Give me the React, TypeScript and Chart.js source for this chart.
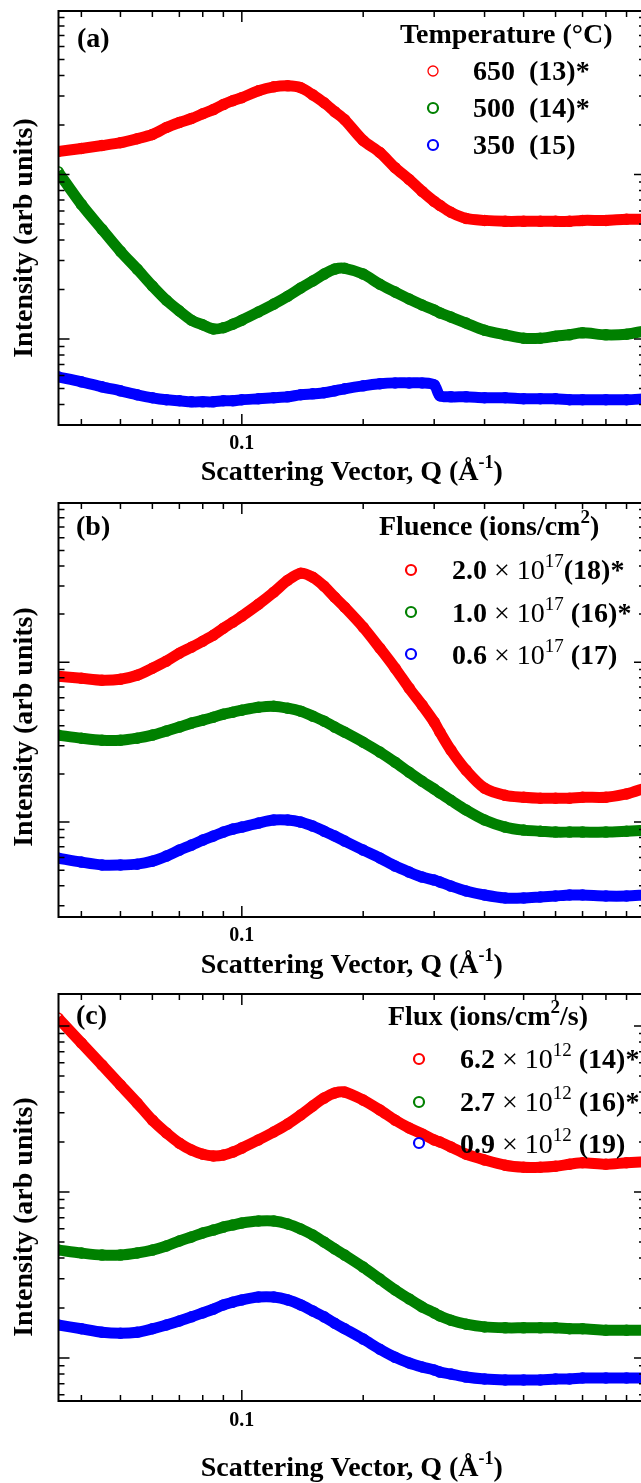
import React, { useEffect, useRef } from 'react';
import { Chart, registerables } from 'chart.js';
Chart.register(...registerables);

// Scattering vector Q (1/Å), shared by all series
const Q = [0.035, 0.04, 0.045, 0.05, 0.055, 0.06, 0.065, 0.07, 0.075, 0.08, 0.085, 0.09, 0.095, 0.1, 0.11, 0.12, 0.13, 0.14, 0.15, 0.16, 0.17, 0.18, 0.2, 0.22, 0.24, 0.26, 0.28, 0.3, 0.31, 0.33, 0.36, 0.4, 0.45, 0.5, 0.55, 0.6, 0.65, 0.7, 0.8, 0.9, 1.0];

// (a) Temperature series
const temp650 = [13.8, 14.4, 15.0, 15.6, 16.5, 17.5, 19.3, 20.7, 21.9, 23.4, 24.8, 26.6, 28.1, 29.3, 32.3, 34.1, 34.6, 33.7, 30.5, 27.3, 24.1, 21.5, 16.1, 13.6, 11.0, 9.33, 7.89, 6.86, 6.49, 5.89, 5.41, 5.26, 5.19, 5.19, 5.19, 5.19, 5.19, 5.26, 5.26, 5.34, 5.34];
const temp500 = [10.4, 6.58, 4.64, 3.41, 2.66, 2.10, 1.72, 1.48, 1.30, 1.22, 1.15, 1.17, 1.23, 1.30, 1.46, 1.63, 1.82, 2.04, 2.25, 2.48, 2.66, 2.69, 2.48, 2.15, 1.93, 1.75, 1.61, 1.50, 1.44, 1.36, 1.25, 1.13, 1.06, 1.01, 1.01, 1.04, 1.06, 1.09, 1.06, 1.07, 1.12];
const temp350 = [0.589, 0.549, 0.512, 0.484, 0.458, 0.439, 0.427, 0.421, 0.415, 0.415, 0.415, 0.421, 0.421, 0.427, 0.433, 0.439, 0.445, 0.458, 0.464, 0.471, 0.484, 0.498, 0.519, 0.534, 0.541, 0.541, 0.541, 0.526, 0.452, 0.445, 0.445, 0.439, 0.439, 0.433, 0.433, 0.433, 0.427, 0.427, 0.427, 0.427, 0.433];

// (b) Fluence series
const flu20 = [8.18, 7.94, 7.72, 7.83, 8.29, 9.17, 10.15, 11.38, 12.41, 13.53, 14.75, 16.31, 17.78, 19.39, 23.04, 27.38, 32.54, 36.0, 33.98, 29.85, 25.48, 22.07, 16.55, 12.23, 9.17, 6.88, 5.39, 4.22, 3.65, 2.82, 2.11, 1.63, 1.47, 1.43, 1.41, 1.41, 1.41, 1.43, 1.43, 1.50, 1.63];
const flu10 = [3.50, 3.35, 3.25, 3.25, 3.35, 3.50, 3.71, 3.93, 4.16, 4.34, 4.53, 4.73, 4.87, 5.01, 5.23, 5.31, 5.16, 4.94, 4.60, 4.28, 3.93, 3.65, 3.16, 2.74, 2.37, 2.05, 1.80, 1.61, 1.52, 1.37, 1.19, 1.03, 0.931, 0.891, 0.878, 0.866, 0.866, 0.866, 0.866, 0.878, 0.891];
const flu06 = [0.596, 0.562, 0.539, 0.539, 0.546, 0.570, 0.613, 0.668, 0.718, 0.772, 0.818, 0.866, 0.904, 0.931, 0.986, 1.03, 1.03, 1.0, 0.944, 0.878, 0.818, 0.761, 0.668, 0.596, 0.531, 0.487, 0.453, 0.434, 0.422, 0.398, 0.371, 0.350, 0.335, 0.335, 0.340, 0.345, 0.350, 0.350, 0.345, 0.345, 0.350];

// (c) Flux series
const flux62 = [111.7, 79.0, 58.2, 44.1, 34.4, 27.1, 22.7, 19.7, 17.9, 16.9, 16.5, 16.7, 17.4, 18.4, 20.6, 23.0, 25.7, 29.1, 33.0, 36.8, 39.5, 40.0, 35.8, 31.2, 27.1, 24.3, 22.4, 20.6, 20.0, 18.7, 16.9, 15.6, 14.5, 14.1, 14.1, 14.3, 14.7, 15.0, 14.7, 15.0, 15.2];
const flux27 = [4.47, 4.29, 4.17, 4.17, 4.29, 4.47, 4.73, 5.07, 5.36, 5.66, 5.90, 6.15, 6.33, 6.51, 6.69, 6.69, 6.42, 5.99, 5.51, 5.00, 4.54, 4.17, 3.53, 2.99, 2.57, 2.27, 2.03, 1.87, 1.79, 1.69, 1.60, 1.54, 1.52, 1.52, 1.52, 1.52, 1.50, 1.50, 1.47, 1.47, 1.47];
const flux09 = [1.58, 1.50, 1.43, 1.41, 1.43, 1.50, 1.58, 1.67, 1.77, 1.87, 1.97, 2.09, 2.17, 2.24, 2.33, 2.33, 2.24, 2.09, 1.92, 1.77, 1.62, 1.50, 1.30, 1.13, 1.01, 0.933, 0.883, 0.847, 0.823, 0.801, 0.768, 0.747, 0.737, 0.737, 0.737, 0.747, 0.747, 0.758, 0.758, 0.758, 0.758];

const xTickValues = [0.1, 1];
const xTickLabels = ['0.1', '1'];
const X_MIN = 0.0351;
const X_MAX = 1.0;

const RED = '#ff0000';
const GREEN = '#008000';
const BLUE = '#0000ff';
const SERIF = '"Liberation Serif", "Times New Roman", Times, serif';

type Part = { t: string; b?: boolean; sup?: boolean };
type Item = { color: string; mx: number; my: number; x: number; y: number; parts: Part[]; lw?: number };
type Panel = {
  top: number; height: number; areaTop: number; areaBottom: number;
  yMin: number; yMax: number; tickPad: number;
  series: { label: string; data: number[]; color: string }[];
  label: { t: string; x: number; y: number };
  yTitleY: number; xTitleY: number;
  legendTitle: { parts: Part[]; x: number; y: number };
  items: Item[];
};

const XTITLE: Part[] = [{ t: 'Scattering Vector, Q (Å', b: true }, { t: '-1', b: true, sup: true }, { t: ')', b: true }];

const panels: Panel[] = [
  {
    top: 0, height: 490, areaTop: 11, areaBottom: 425, yMin: 0.305, yMax: 98.6, tickPad: 7,
    series: [
      { label: '650 (13)*', data: temp650, color: RED },
      { label: '500 (14)*', data: temp500, color: GREEN },
      { label: '350 (15)', data: temp350, color: BLUE },
    ],
    label: { t: '(a)', x: 77, y: 47 }, yTitleY: 238, xTitleY: 480,
    legendTitle: { parts: [{ t: 'Temperature (°C)', b: true }], x: 400, y: 43 },
    items: [
      { color: RED, mx: 433, my: 71, x: 473, y: 80, parts: [{ t: '650  (13)*', b: true }], lw: 1.3 },
      { color: GREEN, mx: 433, my: 108, x: 473, y: 117, parts: [{ t: '500  (14)*', b: true }] },
      { color: BLUE, mx: 433, my: 145, x: 473, y: 154, parts: [{ t: '350  (15)', b: true }] },
    ],
  },
  {
    top: 490, height: 490, areaTop: 503, areaBottom: 917, yMin: 0.255, yMax: 99.0, tickPad: 7,
    series: [
      { label: '2.0e17 (18)*', data: flu20, color: RED },
      { label: '1.0e17 (16)*', data: flu10, color: GREEN },
      { label: '0.6e17 (17)', data: flu06, color: BLUE },
    ],
    label: { t: '(b)', x: 76, y: 535 }, yTitleY: 727, xTitleY: 973,
    legendTitle: { parts: [{ t: 'Fluence (ions/cm', b: true }, { t: '2', b: true, sup: true }, { t: ')', b: true }], x: 379, y: 535 },
    items: [
      { color: RED, mx: 411, my: 570, x: 452, y: 579, parts: [{ t: '2.0', b: true }, { t: ' × 10' }, { t: '17', sup: true }, { t: '(18)*', b: true }] },
      { color: GREEN, mx: 411, my: 612, x: 452, y: 622, parts: [{ t: '1.0', b: true }, { t: ' × 10' }, { t: '17', sup: true }, { t: ' (16)*', b: true }] },
      { color: BLUE, mx: 411, my: 654, x: 452, y: 664, parts: [{ t: '0.6', b: true }, { t: ' × 10' }, { t: '17', sup: true }, { t: ' (17)', b: true }] },
    ],
  },
  {
    top: 980, height: 503, areaTop: 994, areaBottom: 1401, yMin: 0.551, yMax: 155.9, tickPad: 8,
    series: [
      { label: '6.2e12 (14)*', data: flux62, color: RED },
      { label: '2.7e12 (16)*', data: flux27, color: GREEN },
      { label: '0.9e12 (19)', data: flux09, color: BLUE },
    ],
    label: { t: '(c)', x: 76, y: 1024 }, yTitleY: 1217, xTitleY: 1476,
    legendTitle: { parts: [{ t: 'Flux (ions/cm', b: true }, { t: '2', b: true, sup: true }, { t: '/s)', b: true }], x: 388, y: 1025 },
    items: [
      { color: RED, mx: 419, my: 1059, x: 460, y: 1068, parts: [{ t: '6.2', b: true }, { t: ' × 10' }, { t: '12', sup: true }, { t: ' (14)*', b: true }] },
      { color: GREEN, mx: 419, my: 1102, x: 460, y: 1111, parts: [{ t: '2.7', b: true }, { t: ' × 10' }, { t: '12', sup: true }, { t: ' (16)*', b: true }] },
      { color: BLUE, mx: 419, my: 1143, x: 460, y: 1153, parts: [{ t: '0.9', b: true }, { t: ' × 10' }, { t: '12', sup: true }, { t: ' (19)', b: true }] },
    ],
  },
];

const CANVAS_W = 660;
const AREA_LEFT = 58.5;
const AREA_RIGHT = 645;

function setFont(ctx: CanvasRenderingContext2D, p: Part, size: number, supSize: number) {
  ctx.font = `${p.b ? 'bold ' : ''}${p.sup ? supSize : size}px ${SERIF}`;
}
function measureParts(ctx: CanvasRenderingContext2D, parts: Part[], size = 28, supSize = 19) {
  let w = 0;
  for (const p of parts) { setFont(ctx, p, size, supSize); w += ctx.measureText(p.t).width; }
  return w;
}
function drawParts(ctx: CanvasRenderingContext2D, parts: Part[], x: number, y: number, size = 28, supSize = 19, shift = 12) {
  let cx = x;
  ctx.textAlign = 'left';
  ctx.textBaseline = 'alphabetic';
  for (const p of parts) {
    setFont(ctx, p, size, supSize);
    ctx.fillText(p.t, cx, y - (p.sup ? shift : 0));
    cx += ctx.measureText(p.t).width;
  }
}

function PanelChart({ cfg }: { cfg: Panel }) {
  const ref = useRef<HTMLCanvasElement>(null);
  useEffect(() => {
    const canvas = ref.current!;
    const decor = {
      id: 'decor',
      afterDraw(chart: any) {
        const { ctx, chartArea: a, scales } = chart;
        const xs = scales.x, ys = scales.y;
        ctx.save();
        ctx.strokeStyle = '#000';
        ctx.lineWidth = 1.5;
        // x ticks (inside, bottom and top)
        for (let n = -2; n <= 0; n++) {
          for (let k = 1; k <= 9; k++) {
            const v = k * Math.pow(10, n);
            if (v < xs.min * 0.999 || v > xs.max * 1.001) continue;
            const px = xs.getPixelForValue(v);
            const len = k === 1 ? 11 : 6;
            ctx.beginPath();
            ctx.moveTo(px, a.bottom); ctx.lineTo(px, a.bottom - len);
            ctx.moveTo(px, a.top); ctx.lineTo(px, a.top + len);
            ctx.stroke();
          }
        }
        // y ticks (inside, left and right)
        const n0 = Math.floor(Math.log10(ys.min)), n1 = Math.ceil(Math.log10(ys.max));
        for (let n = n0; n <= n1; n++) {
          for (let k = 1; k <= 9; k++) {
            const v = k * Math.pow(10, n);
            if (v < ys.min * 0.999 || v > ys.max * 1.001) continue;
            const py = ys.getPixelForValue(v);
            const len = k === 1 ? 11 : 6;
            ctx.beginPath();
            ctx.moveTo(a.left, py); ctx.lineTo(a.left + len, py);
            ctx.moveTo(a.right, py); ctx.lineTo(a.right - len, py);
            ctx.stroke();
          }
        }
        // frame
        ctx.lineWidth = 2;
        ctx.strokeRect(a.left, a.top, a.right - a.left, a.bottom - a.top);

        // texts, in page coordinates
        ctx.translate(0, -cfg.top);
        ctx.fillStyle = '#000';
        drawParts(ctx, [{ t: cfg.label.t, b: true }], cfg.label.x, cfg.label.y);
        drawParts(ctx, cfg.legendTitle.parts, cfg.legendTitle.x, cfg.legendTitle.y);
        for (const it of cfg.items) {
          ctx.beginPath();
          ctx.strokeStyle = it.color;
          ctx.lineWidth = it.lw ?? 2.2;
          ctx.arc(it.mx, it.my, 5, 0, Math.PI * 2);
          ctx.stroke();
          ctx.fillStyle = '#000';
          drawParts(ctx, it.parts, it.x, it.y);
        }
        // x title
        const w = measureParts(ctx, XTITLE, 28, 18);
        drawParts(ctx, XTITLE, (a.left + a.right) / 2 - w / 2, cfg.xTitleY, 28, 18, 12);
        // y title
        ctx.save();
        ctx.translate(32, cfg.yTitleY);
        ctx.rotate(-Math.PI / 2);
        ctx.font = `bold 28px ${SERIF}`;
        ctx.textAlign = 'center';
        ctx.textBaseline = 'alphabetic';
        ctx.fillText('Intensity (arb units)', 0, 0);
        ctx.restore();
        ctx.restore();
      },
    };

    const chart = new Chart(canvas, {
      type: 'line',
      data: {
        datasets: cfg.series.map((s) => ({
          label: s.label,
          data: Q.map((q, i) => ({ x: q, y: s.data[i] })),
          borderColor: s.color,
          backgroundColor: 'rgba(0,0,0,0)',
          borderWidth: 11,
          pointRadius: 5,
          pointBorderWidth: 1.5,
          pointBorderColor: s.color,
          pointBackgroundColor: 'rgba(0,0,0,0)',
          tension: 0.3,
          fill: false,
          clip: 0,
        })),
      },
      options: {
        responsive: false,
        animation: false,
        devicePixelRatio: 1,
        events: [],
        layout: { padding: { top: cfg.areaTop - cfg.top, right: CANVAS_W - AREA_RIGHT, left: 0, bottom: 0 } },
        plugins: { legend: { display: false }, tooltip: { enabled: false }, title: { display: false } },
        scales: {
          x: {
            type: 'logarithmic',
            min: X_MIN,
            max: X_MAX,
            grid: { display: false, drawTicks: false },
            border: { display: false },
            afterBuildTicks: (s: any) => { s.ticks = xTickValues.map((v) => ({ value: v })); },
            afterFit: (s: any) => { s.height = cfg.height - (cfg.areaBottom - cfg.top); },
            ticks: {
              padding: cfg.tickPad,
              maxRotation: 0,
              autoSkip: false,
              color: '#000',
              font: { family: SERIF, size: 20, weight: 'bold' },
              callback: (v: any) => {
                const i = xTickValues.findIndex((t) => Math.abs(t - Number(v)) < 1e-9);
                return i >= 0 ? xTickLabels[i] : '';
              },
            },
          },
          y: {
            type: 'logarithmic',
            min: cfg.yMin,
            max: cfg.yMax,
            grid: { display: false, drawTicks: false },
            border: { display: false },
            ticks: { display: false },
            afterFit: (s: any) => { s.width = AREA_LEFT; },
          },
        },
      } as any,
      plugins: [decor],
    });
    return () => chart.destroy();
  }, [cfg]);
  return (
    <canvas
      ref={ref}
      width={CANVAS_W}
      height={cfg.height}
      style={{ position: 'absolute', left: 0, top: cfg.top, width: CANVAS_W, height: cfg.height, display: 'block' }}
    />
  );
}

export default function App() {
  return (
    <div style={{ position: 'absolute', left: 0, top: 0, width: 641, height: 1483, overflow: 'hidden', background: '#fff' }}>
      {panels.map((p, i) => <PanelChart key={i} cfg={p} />)}
    </div>
  );
}
